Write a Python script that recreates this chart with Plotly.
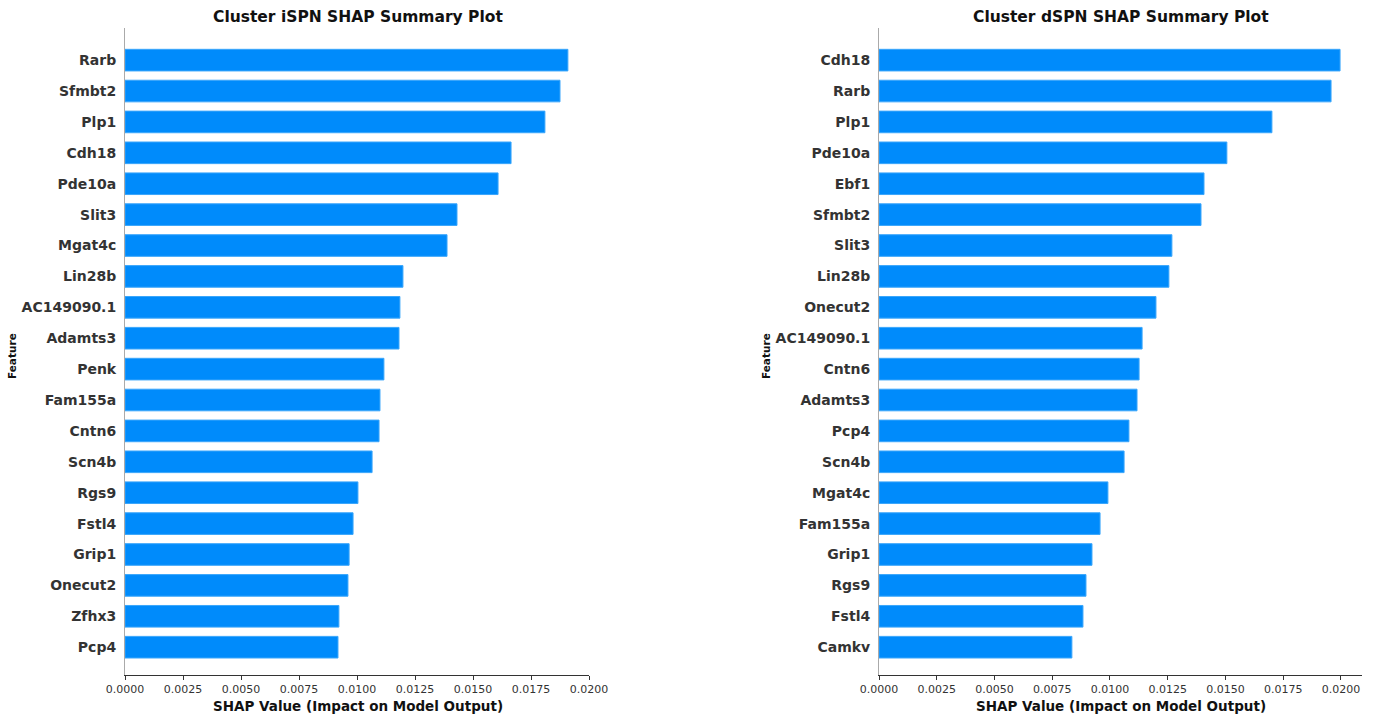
import plotly.graph_objects as go

ispn_features = ["Rarb", "Sfmbt2", "Plp1", "Cdh18", "Pde10a", "Slit3", "Mgat4c", "Lin28b",
                 "AC149090.1", "Adamts3", "Penk", "Fam155a", "Cntn6", "Scn4b", "Rgs9",
                 "Fstl4", "Grip1", "Onecut2", "Zfhx3", "Pcp4"]
ispn_values = [0.01909, 0.01875, 0.01810, 0.01664, 0.01608, 0.01431, 0.01388, 0.01198,
               0.01185, 0.01181, 0.01116, 0.01099, 0.01095, 0.01065, 0.01004,
               0.00983, 0.00966, 0.00961, 0.00922, 0.00918]

dspn_features = ["Cdh18", "Rarb", "Plp1", "Pde10a", "Ebf1", "Sfmbt2", "Slit3", "Lin28b",
                 "Onecut2", "AC149090.1", "Cntn6", "Adamts3", "Pcp4", "Scn4b", "Mgat4c",
                 "Fam155a", "Grip1", "Rgs9", "Fstl4", "Camkv"]
dspn_values = [0.01996, 0.01957, 0.01701, 0.01506, 0.01407, 0.01394, 0.01268, 0.01255,
               0.01199, 0.01139, 0.01126, 0.01117, 0.01082, 0.01061, 0.00991,
               0.00957, 0.00922, 0.00896, 0.00883, 0.00835]

x_ticks = [0.0, 0.0025, 0.005, 0.0075, 0.01, 0.0125, 0.015, 0.0175, 0.02]
x_tick_text = ["0.0000", "0.0025", "0.0050", "0.0075", "0.0100", "0.0125", "0.0150", "0.0175", "0.0200"]

BLUE = "#008bfb"
FONT = "DejaVu Sans"
W, H = 1374, 717
MT, MB = 28, 42

fig = go.Figure()

panels = [
    (ispn_features, ispn_values, "x", "y", [125 / W, 589 / W], 0.02),
    (dspn_features, dspn_values, "x2", "y2", [879 / W, 1362 / W], 0.02091),
]

layout = {}
for i, (feats, vals, xa, ya, dom, xmax) in enumerate(panels):
    f = list(reversed(feats))
    v = list(reversed(vals))
    fig.add_trace(go.Bar(
        x=v, y=f, orientation="h", xaxis=xa, yaxis=ya,
        marker=dict(color=BLUE, line=dict(color="#3aa6fb", width=1)),
        width=0.7, showlegend=False,
    ))
    xname = "xaxis" if i == 0 else "xaxis2"
    yname = "yaxis" if i == 0 else "yaxis2"
    layout[xname] = dict(
        domain=dom, range=[0, xmax], anchor=ya,
        tickvals=x_ticks, ticktext=x_tick_text,
        tickfont=dict(family=FONT, size=11, color="#333333"),
        ticks="outside", ticklen=4, tickcolor="#333333",
        showline=True, linecolor="#333333", linewidth=1,
        showgrid=False, zeroline=False, automargin=False,
    )
    layout[yname] = dict(
        domain=[0, 1], anchor=xa, range=[-0.9, 20.04],
        categoryorder="array", categoryarray=f,
        tickfont=dict(family=FONT, size=14, color="#333333", weight="bold"),
        ticks="", ticklabelstandoff=5,
        showline=True, linecolor="#aaaaaa", linewidth=1,
        showgrid=False, zeroline=False, automargin=False,
    )

fig.update_layout(**layout)


def py(ypix):
    return (H - MB - ypix) / (H - MT - MB)


annots = [
    ("<b>Cluster iSPN SHAP Summary Plot</b>", 358 / W, 17, 15.5),
    ("<b>Cluster dSPN SHAP Summary Plot</b>", 1121 / W, 17, 15.5),
    ("<b>SHAP Value (Impact on Model Output)</b>", 358 / W, 706, 13.5),
    ("<b>SHAP Value (Impact on Model Output)</b>", 1121 / W, 706, 13.5),
]
for text, x, y, size in annots:
    fig.add_annotation(
        text=text, xref="paper", yref="paper",
        x=x, y=py(y), xanchor="center", yanchor="middle", showarrow=False,
        font=dict(family=FONT, size=size, color="#111111"),
    )
for xpos in [12, 766]:
    fig.add_annotation(
        text="<b>Feature</b>", xref="paper", yref="paper",
        x=xpos / W, y=py(356),
        xanchor="center", yanchor="middle", textangle=-90, showarrow=False,
        font=dict(family=FONT, size=10.5, color="#111111"),
    )

fig.update_layout(
    width=W, height=H,
    margin=dict(l=0, r=0, t=MT, b=MB),
    plot_bgcolor="white", paper_bgcolor="white",
    font=dict(family=FONT),
)

fig.write_html("out.html")
